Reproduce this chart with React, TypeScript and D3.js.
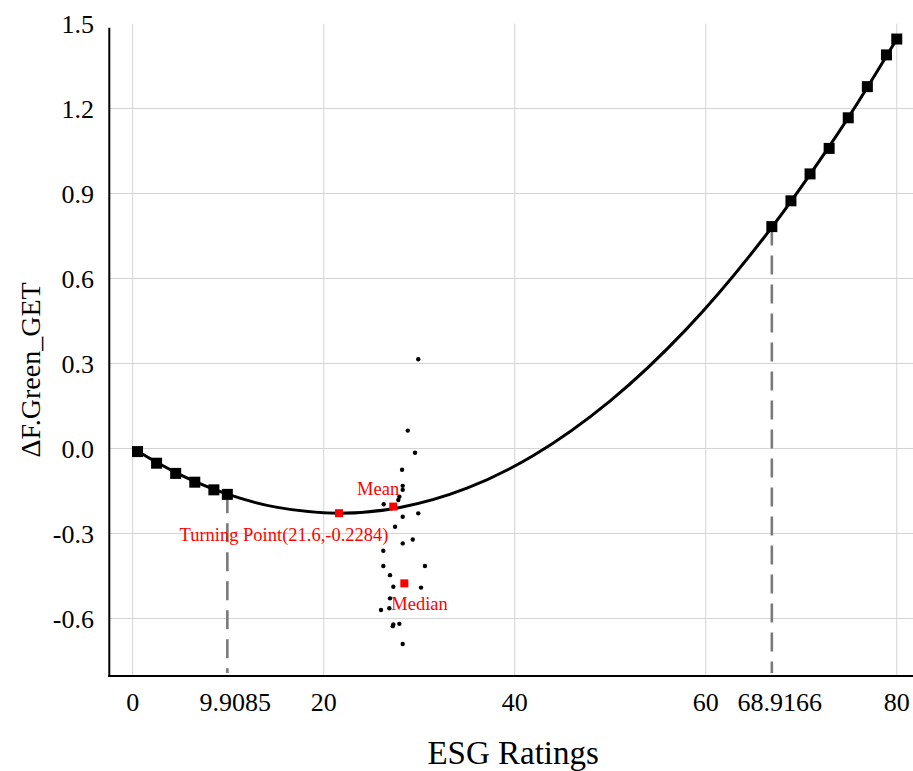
import React from "react";
import * as d3 from "d3";

// ---- data ----
const xTicks = [0, 20, 40, 60, 80];
const yTicks = [-0.6, -0.3, 0.0, 0.3, 0.6, 0.9, 1.2, 1.5];
const yTickLabels = ["-0.6", "-0.3", "0.0", "0.3", "0.6", "0.9", "1.2", "1.5"];

// cut-off (threshold) positions as drawn, and their labels
const cutoffX = [9.9085, 66.92];
const cutoffLabels = ["9.9085", "68.9166"];
const cutoffY = [-0.162, 0.783];

// fitted curve
const curveX = [0.5, 5, 10, 15, 21.6, 28, 35, 42, 50, 58, 66, 74, 80];
const curveY = [-0.01, -0.093, -0.162, -0.207, -0.2284, -0.208, -0.14, -0.024, 0.168, 0.422, 0.74, 1.12, 1.445];

// square markers on the curve
const leftMarkX = [0.5, 2.5, 4.5, 6.5, 8.5, 9.9085];
const leftMarkY = [-0.011, -0.052, -0.088, -0.119, -0.146, -0.162];
const rightMarkX = [66.92, 68.92, 70.92, 72.92, 74.92, 76.92, 78.92, 80];
const rightMarkY = [0.783, 0.874, 0.969, 1.059, 1.167, 1.277, 1.389, 1.445];

// observed points
const obsX = [29.9, 28.8, 29.56, 28.2, 28.27, 28.27, 27.92, 27.81, 26.28, 29.9, 28.27, 27.47, 28.27, 29.32, 26.24, 26.24, 30.6, 26.94, 27.29, 30.19, 26.94, 26.87, 26.0, 27.29, 27.23, 27.92, 28.27];
const obsY = [0.315, 0.063, -0.015, -0.075, -0.132, -0.146, -0.17, -0.182, -0.197, -0.229, -0.241, -0.276, -0.335, -0.321, -0.361, -0.415, -0.415, -0.447, -0.488, -0.491, -0.529, -0.564, -0.57, -0.621, -0.627, -0.619, -0.69];

// special points
const specialNames = ["Turning Point(21.6,-0.2284)", "Mean", "Median"];
const specialX = [21.6, 27.28, 28.44];
const specialY = [-0.2284, -0.205, -0.476];

// ---- layout / style ----
const W = 913;
const H = 771;
const left = 109.3;
const right = 913;
const top = 27.7;
const bottom = 676;
const FONT = "'Liberation Serif', 'Times New Roman', serif";
const labelOffsets = [
  { dx: -55, dy: 28, anchor: "middle" },
  { dx: 6, dy: -12, anchor: "end" },
  { dx: -13, dy: 27, anchor: "start" },
];

export default function App() {
  const x = d3.scaleLinear().domain([-2.45, 81.7]).range([left, right]);
  const y = d3.scaleLinear().domain([-0.803, 1.485]).range([bottom, top]);

  const line = d3
    .line<number>()
    .x((_, i) => x(curveX[i]))
    .y((d) => y(d))
    .curve(d3.curveCatmullRom.alpha(0.5));
  const curvePath = line(curveY) || "";

  const marks = [
    ...leftMarkX.map((v, i) => [v, leftMarkY[i]]),
    ...rightMarkX.map((v, i) => [v, rightMarkY[i]]),
  ];

  return (
    <svg
      width={W}
      height={H}
      style={{ position: "absolute", left: 0, top: 0, background: "#fff" }}
      fontFamily={FONT}
    >
      <rect x={0} y={0} width={W} height={H} fill="#fff" />
      {/* grid */}
      {yTicks
        .filter((t) => y(t) >= top)
        .map((t) => (
          <line key={"gy" + t} x1={left} x2={right} y1={y(t)} y2={y(t)} stroke="#d3d3d3" strokeWidth={1} />
        ))}
      {xTicks.map((t) => (
        <line key={"gx" + t} x1={x(t)} x2={x(t)} y1={top - 4} y2={bottom} stroke="#d3d3d3" strokeWidth={1} />
      ))}

      {/* dashed cut-off lines */}
      {cutoffX.map((v, i) => (
        <line
          key={"cut" + i}
          x1={x(v)}
          x2={x(v)}
          y1={y(cutoffY[i])}
          y2={bottom - 3}
          stroke="#7a7a7a"
          strokeWidth={2.6}
          strokeDasharray="19,10"
        />
      ))}

      {/* curve */}
      <path d={curvePath} fill="none" stroke="#000" strokeWidth={3} />

      {/* markers */}
      {marks.map(([mx, my], i) => (
        <rect key={"m" + i} x={x(mx) - 5.5} y={y(my) - 5.5} width={11} height={11} fill="#000" />
      ))}

      {/* observed points */}
      {obsX.map((v, i) => (
        <circle key={"o" + i} cx={x(v)} cy={y(obsY[i])} r={2.2} fill="#000" />
      ))}

      {/* special points */}
      {specialX.map((v, i) => (
        <g key={"s" + i}>
          <rect x={x(v) - 4} y={y(specialY[i]) - 4} width={8} height={8} fill="#ff0000" />
          <text
            x={x(v) + labelOffsets[i].dx}
            y={y(specialY[i]) + labelOffsets[i].dy}
            textAnchor={labelOffsets[i].anchor as any}
            fontSize={18.5}
            fill="#ff0000"
          >
            {specialNames[i]}
          </text>
        </g>
      ))}

      {/* axes */}
      <line x1={left} x2={left} y1={top} y2={bottom + 1} stroke="#000" strokeWidth={2} />
      <line x1={left - 1} x2={right} y1={bottom} y2={bottom} stroke="#000" strokeWidth={2} />

      {/* tick labels */}
      {yTicks.map((t, i) => (
        <text key={"yl" + t} x={94} y={y(t)} dy="0.35em" textAnchor="end" fontSize={26} fill="#000">
          {yTickLabels[i]}
        </text>
      ))}
      {xTicks.map((t) => (
        <text key={"xl" + t} x={x(t)} y={711} textAnchor="middle" fontSize={26} fill="#000">
          {String(t)}
        </text>
      ))}
      {cutoffX.map((v, i) => (
        <text key={"cl" + i} x={x(v) + 8} y={711} textAnchor="middle" fontSize={26} fill="#000">
          {cutoffLabels[i]}
        </text>
      ))}

      {/* axis titles */}
      <text x={(left + right) / 2 + 2} y={764} textAnchor="middle" fontSize={33} fill="#000">
        ESG Ratings
      </text>
      <text
        transform={`translate(40,370) rotate(-90)`}
        textAnchor="middle"
        fontSize={28}
        fill="#000"
      >
        ΔF.Green_GET
      </text>
    </svg>
  );
}
